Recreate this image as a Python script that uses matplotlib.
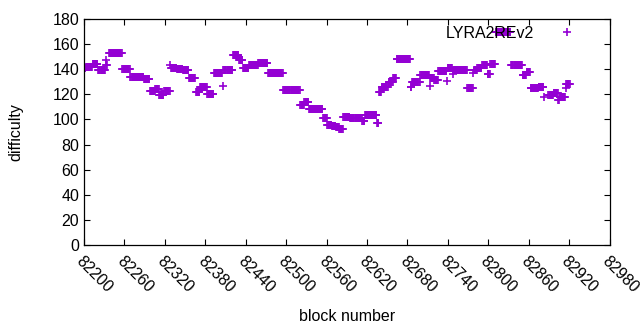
import numpy as np
import matplotlib
matplotlib.use("Agg")
import matplotlib.pyplot as plt

plt.rcParams["font.family"] = ["Liberation Sans", "DejaVu Sans"]

# difficulty held constant over runs of blocks: (first block, last block, difficulty)
run_start = [82200, 82203, 82213, 82221, 82232, 82233, 82237, 82257, 82269, 82289,
             82298, 82306, 82312, 82319, 82328, 82329, 82338, 82347, 82356, 82366,
             82372, 82383, 82393, 82406, 82407, 82421, 82430, 82436, 82445, 82459,
             82473, 82496, 82521, 82527, 82534, 82555, 82561, 82568, 82574, 82579,
             82585, 82595, 82613, 82617, 82635, 82638, 82642, 82652, 82659, 82664,
             82685, 82687, 82699, 82713, 82714, 82720, 82726, 82739, 82740, 82747,
             82748, 82769, 82778, 82779, 82784, 82791, 82799, 82803, 82811, 82834,
             82851, 82857, 82863, 82875, 82883, 82889, 82897, 82904, 82906, 82915,
             82916]
run_end = [82202, 82212, 82220, 82231, 82232, 82234, 82256, 82268, 82288, 82297,
           82305, 82311, 82318, 82327, 82328, 82337, 82346, 82355, 82365, 82371,
           82382, 82392, 82405, 82406, 82420, 82429, 82435, 82444, 82458, 82472,
           82495, 82520, 82526, 82533, 82554, 82560, 82567, 82573, 82578, 82584,
           82594, 82612, 82616, 82634, 82637, 82641, 82651, 82658, 82663, 82684,
           82686, 82698, 82712, 82713, 82719, 82725, 82738, 82739, 82746, 82747,
           82768, 82777, 82778, 82783, 82790, 82798, 82802, 82810, 82833, 82850,
           82856, 82862, 82874, 82882, 82883, 82896, 82903, 82905, 82914, 82915,
           82921]
run_diff = [141, 142, 144, 139, 147, 143, 153, 140, 133.5, 132,
            122.5, 124, 119.5, 123, 143, 141, 140, 139, 133, 122,
            126, 120.5, 137, 126.6, 139, 151, 147, 141, 143, 145,
            137, 123.5, 111.5, 114, 108.5, 101, 95.5, 95, 94, 92.5,
            102, 101, 98.5, 103.5, 97, 122, 126, 130, 133, 148,
            126, 129.5, 135.4, 127, 132.7, 131.5, 138.3, 131, 140.7, 136,
            139.5, 125, 137, 139, 141, 143.5, 136, 144, 169.6, 143.4,
            135.4, 138, 125.2, 126, 118, 119.5, 121, 115.5, 118, 125,
            128.6]

blocks = np.concatenate([np.arange(s, e + 1) for s, e in zip(run_start, run_end)])
difficulty = np.concatenate([np.full(e - s + 1, d) for s, e, d in zip(run_start, run_end, run_diff)])

color = "#9400d3"
fs = 11.5

fig = plt.figure(figsize=(6.4, 3.3), dpi=100)
ax = fig.add_axes([84 / 640, 1 - 245 / 330, (609.5 - 84) / 640, (245 - 19) / 330])

ax.plot(blocks, difficulty, linestyle="none", marker="+", markersize=6,
        markeredgewidth=1.2, color=color, label="LYRA2REv2")

ax.set_xlim(82200, 82980)
ax.set_ylim(0, 180)
ax.set_xticks(np.arange(82200, 82981, 60))
ax.set_yticks(np.arange(0, 181, 20))
ax.tick_params(direction="in", top=True, right=True, length=4, width=0.8, labelsize=fs)
for lbl in ax.get_xticklabels():
    lbl.set_rotation(-45)
    lbl.set_ha("left")
    lbl.set_va("top")
    lbl.set_rotation_mode("anchor")
ax.tick_params(axis="x", pad=6)
for sp in ax.spines.values():
    sp.set_linewidth(0.9)

ax.set_xlabel("block number", fontsize=fs, labelpad=10)
ax.set_ylabel("difficulty", fontsize=fs, labelpad=21)

ax.legend(loc="upper right", bbox_to_anchor=(591 / 640, 1 - 26 / 330),
          bbox_transform=fig.transFigure, frameon=False, markerfirst=False,
          handlelength=3, handletextpad=0.55, borderpad=0, borderaxespad=0,
          fontsize=fs, numpoints=1)

fig.savefig("out.png", dpi=100)
